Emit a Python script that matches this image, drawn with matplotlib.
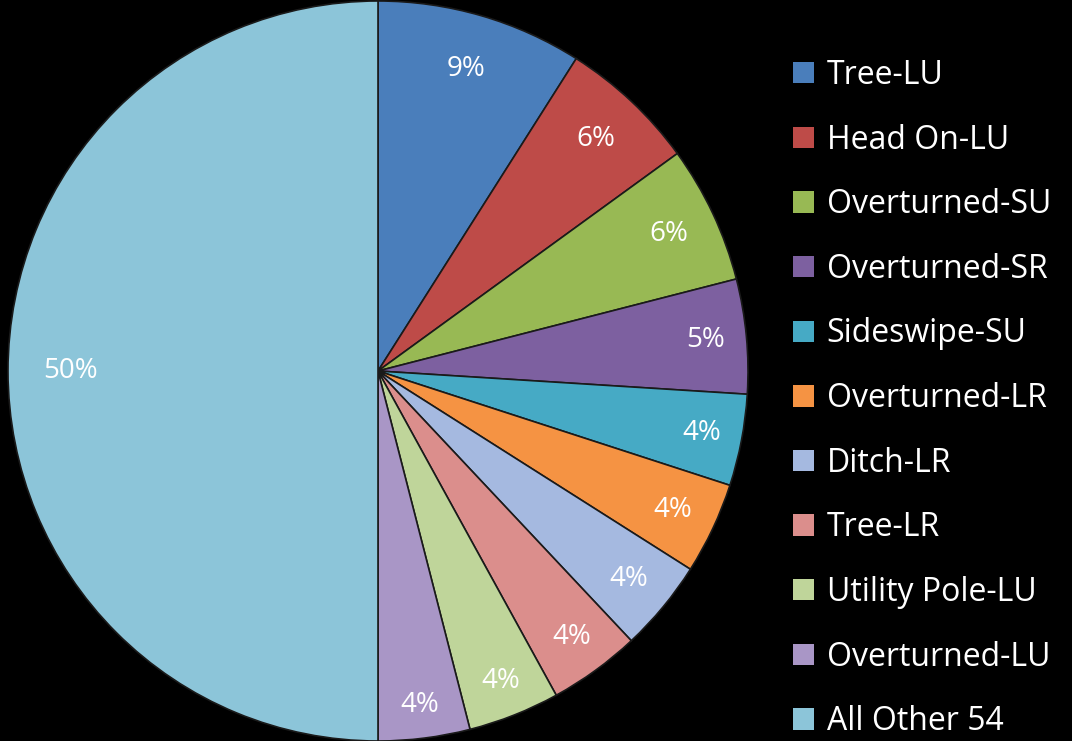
import numpy as np
import matplotlib.pyplot as plt
from matplotlib.patches import Patch

# --- data ---
categories = ["Tree-LU", "Head On-LU", "Overturned-SU", "Overturned-SR",
              "Sideswipe-SU", "Overturned-LR", "Ditch-LR", "Tree-LR",
              "Utility Pole-LU", "Overturned-LU", "All Other 54"]
shares = [9, 6, 6, 5, 4, 4, 4, 4, 4, 4, 50]
colors = ["#4A7EBB", "#BE4B48", "#98B954", "#7D60A0", "#46AAC5", "#F59343",
          "#A5B9E0", "#DB8E8C", "#BFD59A", "#A996C6", "#8CC5D9"]
label_r = [0.85, 0.86, 0.87, 0.89, 0.89, 0.88, 0.88, 0.89, 0.90, 0.91, 0.83]

plt.rcParams['font.family'] = ['Open Sans', 'DejaVu Sans']

W, H = 1072, 741
fig = plt.figure(figsize=(W / 100, H / 100), dpi=100, facecolor="black")

# pie centre ~ (378, 371) px, radius ~370 px
cx, cy, r = 378, 371, 370
ax = fig.add_axes([(cx - r) / W, (H - cy - r) / H, 2 * r / W, 2 * r / H])
ax.set_facecolor("black")

wedges, _ = ax.pie(shares, colors=colors, startangle=90, counterclock=False,
                   radius=1.0,
                   wedgeprops=dict(edgecolor="#1a1a1a", linewidth=1.2))

total = sum(shares)
for w, v, lr in zip(wedges, shares, label_r):
    ang = np.deg2rad((w.theta1 + w.theta2) / 2)
    ax.text(lr * np.cos(ang), lr * np.sin(ang), f"{round(100 * v / total)}%",
            ha="center", va="center", color="white", fontsize=20)

ax.set_xlim(-1, 1)
ax.set_ylim(-1, 1)
ax.set_aspect("equal")
ax.axis("off")

handles = [Patch(facecolor=c, edgecolor="none") for c in colors]
leg = fig.legend(handles, categories, loc="upper left",
                 bbox_to_anchor=(793 / W, 1 - 59 / H),
                 frameon=False, fontsize=23, labelcolor="white",
                 handlelength=0.65, handleheight=0.65, handletextpad=0.4,
                 labelspacing=0.99, borderaxespad=0, borderpad=0)

fig.savefig("out.png", dpi=100, facecolor="black")
